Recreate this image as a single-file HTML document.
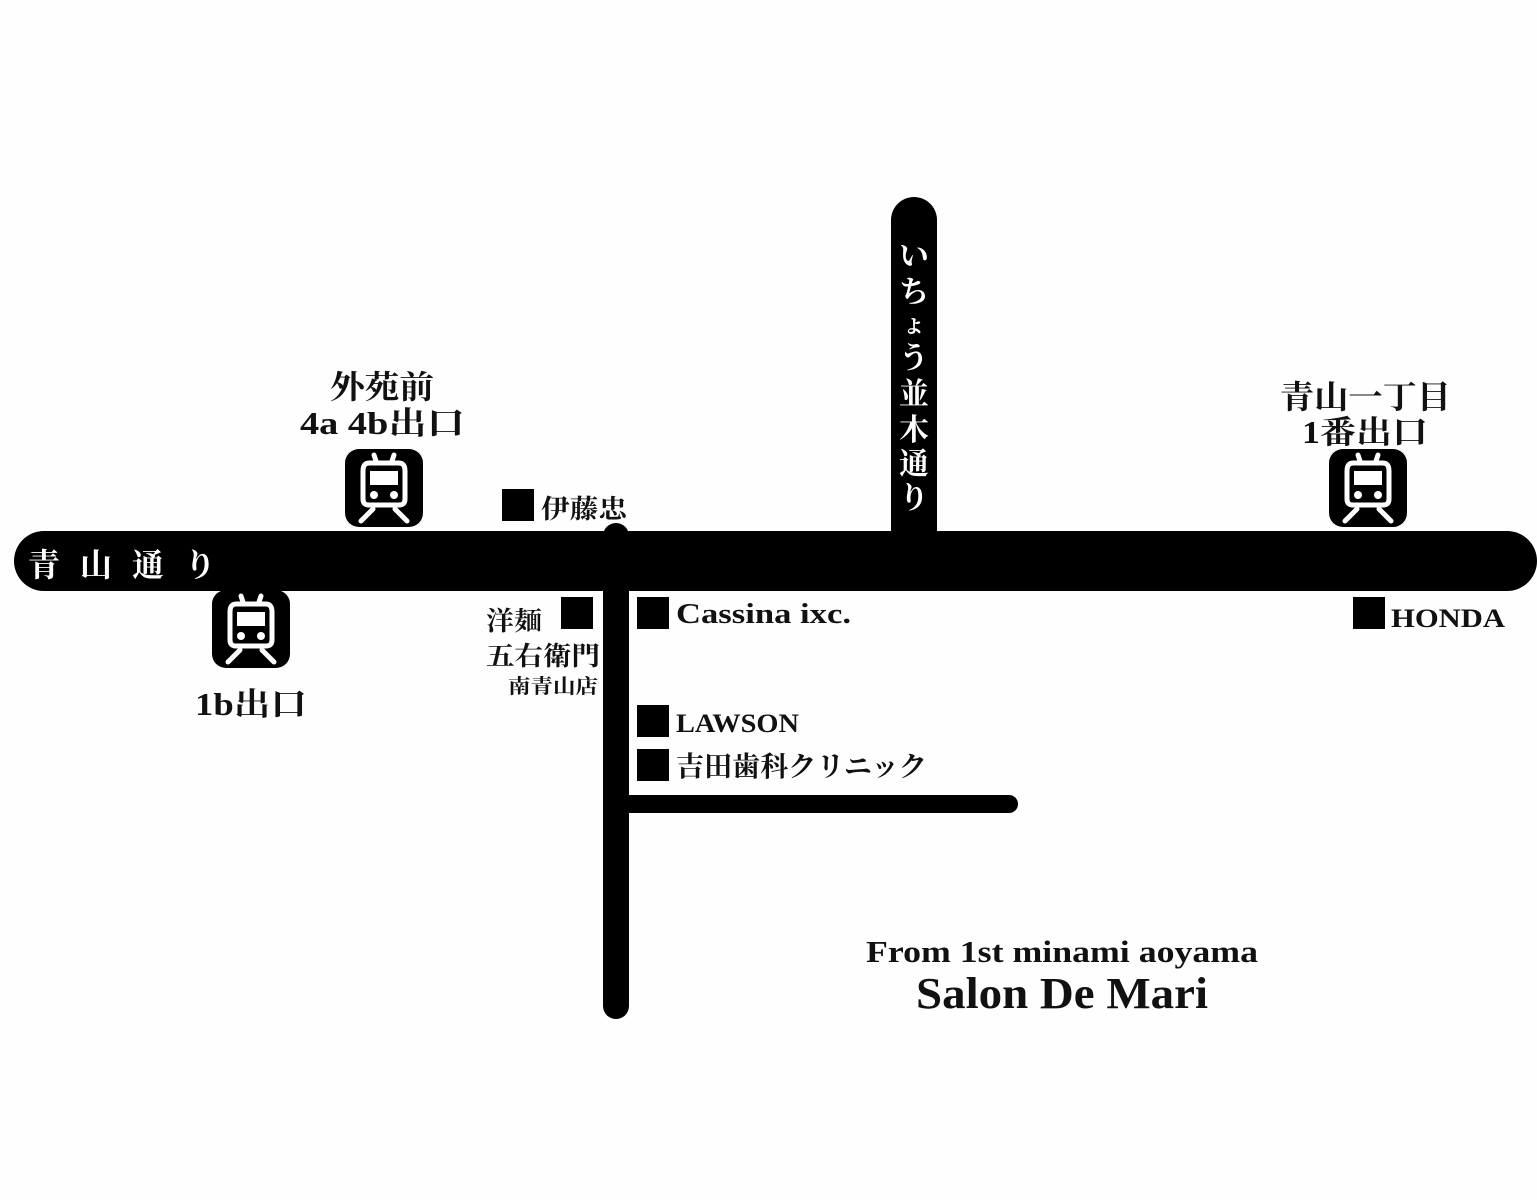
<!DOCTYPE html>
<html><head><meta charset="utf-8"><style>
html,body{margin:0;padding:0;background:#fefefe;}
svg{display:block}
text{font-family:"Liberation Serif","Noto Serif CJK SC",serif;font-weight:bold;fill:#111;}
</style></head><body>
<svg width="1537" height="1200" viewBox="0 0 1537 1200" xmlns="http://www.w3.org/2000/svg">
<defs>
<g id="train">
<rect x="0" y="0" width="78" height="78" rx="14" fill="#000"/>
<g fill="none" stroke="#fff" stroke-width="5" stroke-linecap="round">
<line x1="29" y1="6" x2="31" y2="12"/><line x1="49" y1="6" x2="47" y2="12"/>
<path d="M24 14 H54 Q60 14 60 22 V50 Q60 56 54 56 H24 Q18 56 18 50 V22 Q18 14 24 14 Z"/>
<line x1="28" y1="60" x2="16" y2="72"/><line x1="50" y1="60" x2="62" y2="72"/>
</g>
<rect x="25" y="22" width="28" height="14" fill="#fff"/>
<circle cx="29" cy="46" r="4" fill="#fff"/><circle cx="49" cy="46" r="4" fill="#fff"/>
</g>
</defs>
<g fill="#000">
<rect x="14" y="531" width="1523" height="60" rx="30"/>
<rect x="891" y="197" width="46" height="360" rx="23"/>
<rect x="603" y="523" width="26" height="496" rx="13"/>
<rect x="615" y="795" width="403" height="18" rx="9"/>
<rect x="502" y="489" width="32" height="32"/>
<rect x="561" y="597" width="32" height="32"/>
<rect x="637" y="597" width="32" height="32"/>
<rect x="637" y="705" width="32" height="32"/>
<rect x="637" y="749" width="32" height="32"/>
<rect x="1353" y="597" width="32" height="32"/>
</g>
<use href="#train" x="345" y="449"/>
<use href="#train" x="212" y="590"/>
<use href="#train" x="1329" y="449"/>
<text x="28" y="576" font-size="32" style="fill:#fff" letter-spacing="20">青山通り</text>
<g font-size="30">
<text x="914" y="266" text-anchor="middle" style="fill:#fff">い</text>
<text x="914" y="302" text-anchor="middle" style="fill:#fff">ち</text>
<text x="914" y="332" text-anchor="middle" font-size="24" style="fill:#fff">ょ</text>
<text x="914" y="368" text-anchor="middle" style="fill:#fff">う</text>
<text x="914" y="404" text-anchor="middle" style="fill:#fff">並</text>
<text x="914" y="440" text-anchor="middle" style="fill:#fff">木</text>
<text x="914" y="474" text-anchor="middle" style="fill:#fff">通</text>
<text x="914" y="508" text-anchor="middle" style="fill:#fff">り</text>
</g>
<text x="330" y="398" font-size="32" textLength="104" lengthAdjust="spacingAndGlyphs">外苑前</text>
<text x="300" y="434" font-size="32" textLength="165" lengthAdjust="spacingAndGlyphs">4a 4b出口</text>
<text x="1280" y="408" font-size="32" textLength="171" lengthAdjust="spacingAndGlyphs">青山一丁目</text>
<text x="1302" y="443" font-size="32" textLength="126" lengthAdjust="spacingAndGlyphs">1番出口</text>
<text x="195" y="715" font-size="32" textLength="112" lengthAdjust="spacingAndGlyphs">1b出口</text>
<text x="541" y="518" font-size="26" textLength="86" lengthAdjust="spacingAndGlyphs">伊藤忠</text>
<text x="486" y="630" font-size="26" textLength="56" lengthAdjust="spacingAndGlyphs">洋麺</text>
<text x="486" y="665" font-size="26" textLength="114" lengthAdjust="spacingAndGlyphs">五右衛門</text>
<text x="508" y="693" font-size="20" textLength="90" lengthAdjust="spacingAndGlyphs">南青山店</text>
<text x="676" y="623" font-size="28" textLength="175" lengthAdjust="spacingAndGlyphs">Cassina ixc.</text>
<text x="676" y="732" font-size="26" textLength="123" lengthAdjust="spacingAndGlyphs">LAWSON</text>
<text x="676" y="776" font-size="28" textLength="251" lengthAdjust="spacingAndGlyphs">吉田歯科クリニック</text>
<text x="1391" y="627" font-size="26" textLength="114" lengthAdjust="spacingAndGlyphs">HONDA</text>
<text x="866" y="962" font-size="31" textLength="392" lengthAdjust="spacingAndGlyphs">From 1st minami aoyama</text>
<text x="916" y="1008" font-size="44" textLength="292" lengthAdjust="spacingAndGlyphs">Salon De Mari</text>
</svg>
</body></html>
